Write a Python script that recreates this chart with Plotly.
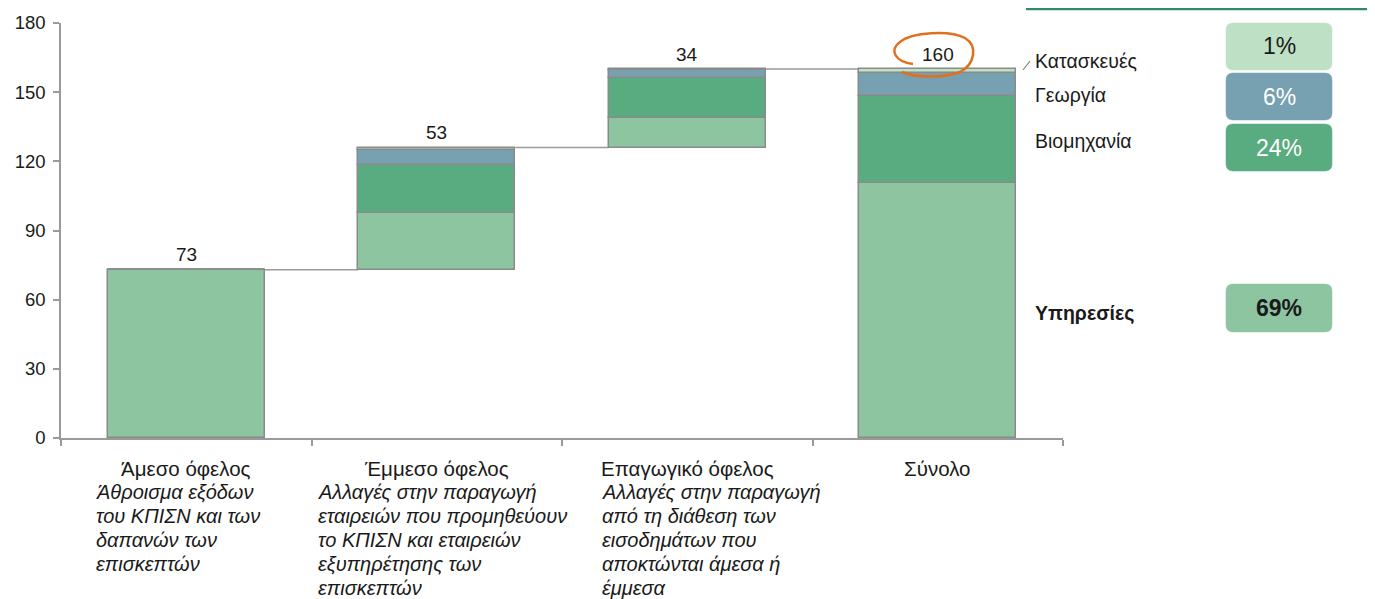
import plotly.graph_objects as go

# ---------------- data ----------------
categories = ["Άμεσο όφελος", "Έμμεσο όφελος", "Επαγωγικό όφελος", "Σύνολο"]
descriptions = [
    ["Άθροισμα εξόδων", "του ΚΠΙΣΝ και των", "δαπανών των", "επισκεπτών"],
    ["Αλλαγές στην παραγωγή", "εταιρειών που προμηθεύουν", "το ΚΠΙΣΝ και εταιρειών",
     "εξυπηρέτησης των", "επισκεπτών"],
    ["Αλλαγές στην παραγωγή", "από τη διάθεση των", "εισοδημάτων που",
     "αποκτώνται άμεσα ή", "έμμεσα"],
    [],
]
services = [73, 24.5, 13, 110.5]
industry = [0, 21, 17, 38]
agriculture = [0, 6.5, 3.5, 10]
construction = [0, 1, 0.5, 1.5]
totals = [73, 53, 34, 160]
is_total = [False, False, False, True]

sectors = ["Κατασκευές", "Γεωργία", "Βιομηχανία", "Υπηρεσίες"]
shares = [1, 6, 24, 69]

y_ticks = [0, 30, 60, 90, 120, 150, 180]

# ---------------- styling ----------------
C_SERV = "#8DC5A0"
C_IND = "#58AC7F"
C_AGR = "#77A0B1"
C_CON = "#BEE0C4"
EDGE = "#8a8a8a"
AXIS = "#9a9a9a"
FONT = "Liberation Sans, Arial, sans-serif"
TXT = "#1a1a1a"

OFF = 8  # default page body margin
W, H = 1375 - OFF, 599 - OFF
L, R, T, B = 53, 312, 15, 161
PW, PH = W - L - R, H - T - B


def px(x):  # page pixel -> paper
    return (x - OFF - L) / PW


def py(y):
    return (H - B - (y - OFF)) / PH


# base of each column (waterfall)
bases = []
run = 0
for t, tot in zip(totals, is_total):
    if tot:
        bases.append(0)
    else:
        bases.append(run)
        run += t

xs = [i + 0.5 for i in range(len(categories))]
bw = 0.627

fig = go.Figure()
cum = list(bases)
for name, vals, col in [("Υπηρεσίες", services, C_SERV), ("Βιομηχανία", industry, C_IND),
                        ("Γεωργία", agriculture, C_AGR), ("Κατασκευές", construction, C_CON)]:
    fig.add_trace(go.Bar(
        x=xs, y=vals, base=list(cum), width=bw, name=name,
        marker=dict(color=col, line=dict(color=EDGE, width=1.5)),
        hoverinfo="skip", showlegend=False,
    ))
    cum = [c + v for c, v in zip(cum, vals)]

shapes = []
annotations = []

# connector lines
for i in range(len(categories) - 1):
    top = bases[i] + totals[i]
    shapes.append(dict(type="line", xref="x", yref="y", x0=xs[i] + bw / 2, x1=xs[i + 1] - bw / 2,
                       y0=top, y1=top, line=dict(color=AXIS, width=1.5), layer="below"))

# value labels
for i in range(len(categories)):
    annotations.append(dict(x=xs[i], y=bases[i] + totals[i], xref="x", yref="y", text=str(totals[i]),
                            showarrow=False, yanchor="middle", yshift=15,
                            font=dict(family=FONT, size=19, color=TXT)))

# category labels
desc_left_px = [94, 316, 600, 0]
for i in range(len(categories)):
    annotations.append(dict(x=xs[i], y=py(468), xref="x", yref="paper", text=categories[i],
                            showarrow=False, xanchor="center", yanchor="middle",
                            font=dict(family=FONT, size=20.5, color=TXT)))
    for k, line in enumerate(descriptions[i]):
        annotations.append(dict(x=px(desc_left_px[i]), y=py(492 + 24 * k), xref="paper", yref="paper",
                                text="<i>" + line + "</i>", align="left",
                                showarrow=False, xanchor="left", yanchor="middle",
                                font=dict(family=FONT, size=20, color=TXT)))

# right-side legend labels and boxes
label_y = [61, 95, 141, 313]
box_y = [(23, 70), (73, 120), (124, 171), (284, 332)]
box_cols = [C_CON, C_AGR, C_IND, C_SERV]
box_txt = [TXT, "white", "white", TXT]
for i in range(len(sectors)):
    bold = i == 3
    annotations.append(dict(x=px(1033), y=py(label_y[i]), xref="paper", yref="paper",
                            text=("<b>%s</b>" % sectors[i]) if bold else sectors[i],
                            showarrow=False, xanchor="left", yanchor="middle",
                            font=dict(family=FONT, size=19.5, color=TXT)))
    x0, x1 = 1226, 1332
    y0, y1 = box_y[i]
    r = 7
    path = ("M {a},{b} L {c},{b} Q {x1},{b} {x1},{d} L {x1},{e} Q {x1},{y1p} {c},{y1p} "
            "L {a},{y1p} Q {x0},{y1p} {x0},{e} L {x0},{d} Q {x0},{b} {a},{b} Z").format(
        a=px(x0 + r), c=px(x1 - r), b=py(y0), d=py(y0 + r), e=py(y1 - r), y1p=py(y1),
        x0=px(x0), x1=px(x1))
    shapes.append(dict(type="path", xref="paper", yref="paper", path=path,
                       fillcolor=box_cols[i], line=dict(color=box_cols[i], width=0.5)))
    annotations.append(dict(x=px((x0 + x1) / 2), y=py((y0 + y1) / 2), xref="paper", yref="paper",
                            text=("<b>%d%%</b>" % shares[i]) if bold else "%d%%" % shares[i],
                            showarrow=False, xanchor="center", yanchor="middle",
                            font=dict(family=FONT, size=23, color=box_txt[i])))

# leader slash
shapes.append(dict(type="line", xref="paper", yref="paper", x0=px(1023), y0=py(70), x1=px(1030), y1=py(61),
                   line=dict(color="#808080", width=1.2)))
# top green rule
shapes.append(dict(type="line", xref="paper", yref="paper", x0=px(1026), y0=py(9), x1=px(1375), y1=py(9),
                   line=dict(color="#2f8a66", width=2.5)))
# orange hand-drawn circle around total
pts = [(913, 64), (895, 62), (889, 50), (900, 42), (912, 32), (950, 30), (965, 38),
       (978, 46), (975, 64), (960, 72), (945, 78), (915, 78), (902, 72)]
p = "M {},{}".format(px(pts[0][0]), py(pts[0][1]))
for k in range(1, len(pts), 3):
    seg = pts[k:k + 3]
    p += " C " + " ".join("{},{}".format(px(a), py(b)) for a, b in seg)
shapes.append(dict(type="path", xref="paper", yref="paper", path=p,
                   line=dict(color="#E0701E", width=2.5)))

fig.update_layout(
    width=W, height=H,
    margin=dict(l=L, r=R, t=T, b=B, pad=0, autoexpand=False),
    paper_bgcolor="white", plot_bgcolor="white",
    barmode="overlay", bargap=0,
    shapes=shapes, annotations=annotations,
    xaxis=dict(range=[0, 4], tickvals=[0, 1, 2, 3, 4], showticklabels=False,
               ticks="outside", ticklen=6, tickcolor=AXIS, tickwidth=1.5, automargin=False,
               showline=True, linecolor=AXIS, linewidth=1.5, showgrid=False, zeroline=False,
               fixedrange=True),
    yaxis=dict(range=[0, 180], tickvals=y_ticks, ticks="outside", ticklen=6, tickcolor=AXIS,
               tickwidth=1.5, showline=True, linecolor=AXIS, linewidth=1.5, showgrid=False,
               zeroline=False, tickfont=dict(family=FONT, size=18.5, color=TXT), automargin=False,
               ticklabelstandoff=4, fixedrange=True),
    font=dict(family=FONT, color=TXT),
)

fig.write_html("out.html")
